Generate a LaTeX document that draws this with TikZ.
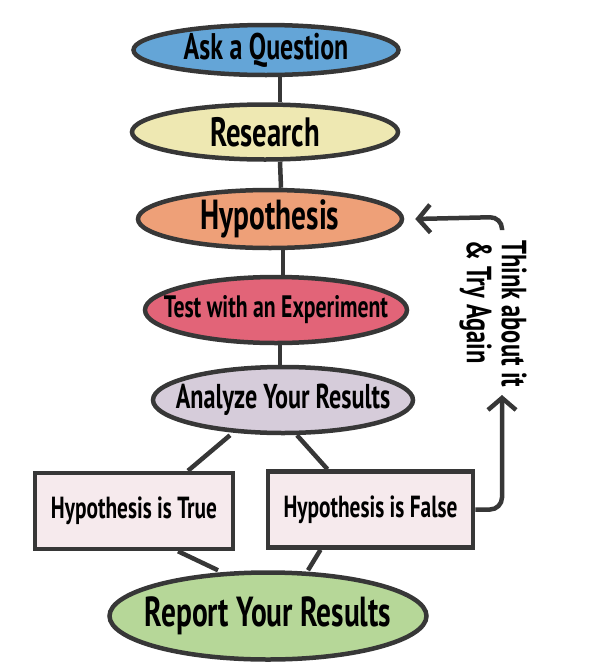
\documentclass[tikz,border=0pt]{standalone}
\usepackage{fontspec}
\newfontfamily\handfont{PT Sans}[FakeStretch=0.7]
\usetikzlibrary{shapes.geometric, arrows.meta, backgrounds}
\definecolor{ink}{RGB}{55,55,55}
\definecolor{askblue}{RGB}{100,165,215}
\definecolor{researchyellow}{RGB}{238,232,178}
\definecolor{hypoorange}{RGB}{238,160,120}
\definecolor{testred}{RGB}{226,100,120}
\definecolor{analyzelilac}{RGB}{214,204,218}
\definecolor{resultpink}{RGB}{246,234,237}
\definecolor{reportgreen}{RGB}{182,215,152}
\tikzset{
  stage/.style={ellipse, draw=ink, line width=4.5pt, inner sep=0pt, inner xsep=-110pt,
    font=\handfont\bfseries\fontsize{#1}{#1}\selectfont},
  result/.style={rectangle, draw=ink, line width=4.5pt, fill=resultpink, inner sep=0pt,
    minimum height=76pt, font=\handfont\bfseries\fontsize{30.5}{30.5}\selectfont},
  link/.style={draw=ink, line width=4.5pt},
  loopback/.style={draw=ink, line width=4.5pt, rounded corners=12pt,
    -{Straight Barb[length=12pt, width=28pt, line width=4.5pt]}}
}
\begin{document}
\begin{tikzpicture}[x=1pt, y=-1pt]
\useasboundingbox (0,0) rectangle (591,672);
\node [stage=37, fill=askblue, minimum width=265pt, minimum height=50pt] (ask) at (266,50) {Ask a Question};
\node [stage=41, fill=researchyellow, minimum width=266pt, minimum height=55pt] (research) at (265,132) {Research};
\node [stage=42, fill=hypoorange, minimum width=264pt, minimum height=58pt] (hypo) at (270,219) {Hypothesis};
\node [stage=31, fill=testred, minimum width=262pt, minimum height=66pt] (test) at (276,310) {Test with an Experiment};
\node [stage=34.5, fill=analyzelilac, minimum width=260pt, minimum height=66pt] (analyze) at (283,400) {Analyze Your Results};
\node [result, minimum width=198pt] (true) at (134,511) {Hypothesis is True};
\node [result, minimum width=205pt] (false) at (370.5,509.5) {Hypothesis is False};
\node [stage=42, fill=reportgreen, minimum width=317pt, minimum height=87pt] (report) at (268,616) {Report Your Results};
\node [rotate=-90, anchor=west, align=left, inner sep=0pt, font=\handfont\bfseries\fontsize{35}{35}\selectfont] (think) at (493,240) {Think about it\\\& Try Again};

\begin{scope}[on background layer]
  \draw [link] ([xshift=14pt]ask.south) -- ([xshift=15pt]research.north);
  \draw [link] ([xshift=15pt]research.south) -- ([xshift=11pt]hypo.north);
  \draw [link] ([xshift=13pt]hypo.south) -- ([xshift=7pt]test.north);
  \draw [link] ([xshift=4pt]test.south) -- ([xshift=-3pt]analyze.north);
  \draw [link] ([xshift=-53pt]analyze.south) -- ([xshift=54pt]true.north);
  \draw [link] ([xshift=14pt]analyze.south) -- ([xshift=-43pt]false.north);
  \draw [link] ([xshift=44pt]true.south) -- ([xshift=-50pt]report.north);
  \draw [link] ([xshift=-50pt]false.south) -- ([xshift=40pt]report.north);
\end{scope}

\coordinate (loopstart) at (502,230);
\draw [loopback] (false.east) -- (502,509.5) -- (502,395);
\draw [loopback] (loopstart) -- (502,217) -- ([xshift=11pt]hypo.east);
\end{tikzpicture}
\end{document}
